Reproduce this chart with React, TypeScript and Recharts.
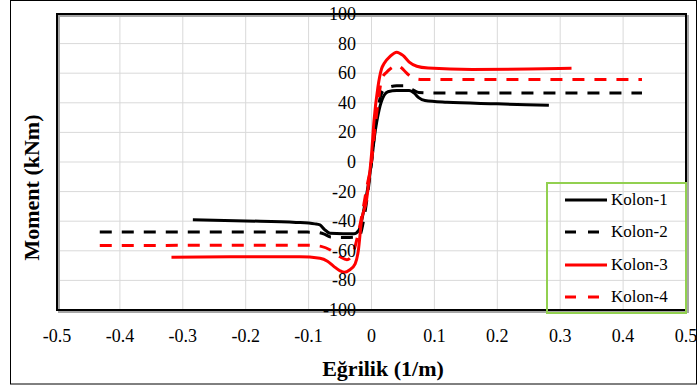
import React from "react";
import { LineChart, Line, XAxis, YAxis, CartesianGrid, ReferenceArea, Legend } from "recharts";

const FONT = "Liberation Serif";

// Eğrilik (1/m), Moment (kNm)
const kolon1: [number, number][] = [
  [-0.284, -39], [-0.2, -39.8], [-0.12, -40.8], [-0.09, -41.8], [-0.082, -42.5], [-0.075, -45.5],
  [-0.066, -48.2], [-0.045, -48.5], [-0.028, -48.5], [-0.02, -46], [-0.012, -32], [-0.005, -15],
  [0, 0], [0.005, 18], [0.012, 35], [0.02, 45], [0.026, 47.5], [0.04, 48.3], [0.06, 48.3],
  [0.068, 46.5], [0.075, 43.5], [0.085, 41.5], [0.12, 40.3], [0.2, 39.3], [0.282, 38.3],
];

const kolon2: [number, number][] = [
  [-0.432, -47.3], [-0.2, -47.3], [-0.09, -47.4], [-0.075, -48.7], [-0.065, -50.6], [-0.04, -51],
  [-0.02, -50.5], [-0.012, -38], [-0.005, -18], [0, 0], [0.005, 20], [0.012, 40], [0.018, 48],
  [0.025, 50], [0.04, 51.5], [0.055, 51.5], [0.065, 49], [0.075, 47], [0.1, 46.7], [0.2, 46.7],
  [0.43, 46.7],
];

const kolon3: [number, number][] = [
  [-0.318, -64.3], [-0.2, -64], [-0.114, -64], [-0.082, -65], [-0.07, -67], [-0.06, -70.5],
  [-0.05, -73.5], [-0.043, -74.5], [-0.035, -73], [-0.026, -68.8], [-0.021, -60], [-0.016, -40],
  [-0.008, -26], [-0.004, -12], [0, 5], [0.004, 28], [0.01, 50], [0.016, 63], [0.02, 66.5],
  [0.03, 71.5], [0.04, 74.2], [0.05, 72], [0.06, 67.5], [0.072, 64.7], [0.09, 63.5], [0.16, 62.5],
  [0.25, 62.8], [0.318, 63.3],
];

const kolon4: [number, number][] = [
  [-0.432, -56.4], [-0.2, -56.3], [-0.1, -56.3], [-0.08, -57], [-0.063, -60], [-0.05, -64],
  [-0.039, -66], [-0.03, -62], [-0.021, -48], [-0.014, -33], [-0.007, -16], [0, 0], [0.006, 25],
  [0.012, 45], [0.016, 56], [0.024, 60.7], [0.033, 64], [0.04, 65.3], [0.048, 63.5], [0.056, 60],
  [0.065, 57], [0.08, 55.8], [0.2, 55.7], [0.43, 55.7],
];

const seriesNames = ["Kolon-1", "Kolon-2", "Kolon-3", "Kolon-4"];
const seriesColors = ["#000000", "#000000", "#ff0000", "#ff0000"];
const seriesDashes = ["", "12 10", "", "12 10"];
const seriesData = [kolon1, kolon2, kolon3, kolon4];

const xTicks = [-0.5, -0.4, -0.3, -0.2, -0.1, 0, 0.1, 0.2, 0.3, 0.4, 0.5];
const yTicks = [-100, -80, -60, -40, -20, 0, 20, 40, 60, 80, 100];

const toPoints = (arr: [number, number][]) => arr.map(([x, y]) => ({ x, y }));

// y labels sit next to the vertical axis at x = 0 (Excel style)
const renderYTick = (props: any) => (
  <text key={props.payload.value} x={356} y={props.y} dy={6} textAnchor="end" fontSize={18} fontFamily={FONT} fill="#000">
    {props.payload.value}
  </text>
);

const PlotFrame = (p: any) => (
  <g>
    <rect x={p.x + 2} y={p.y + 2} width={p.width} height={p.height} fill="none" stroke="#a6a6a6" strokeWidth={2} />
    <rect x={p.x} y={p.y} width={p.width} height={p.height} fill="none" stroke="#000" strokeWidth={2} />
  </g>
);

const LegendBox = (props: any) => (
  <div
    style={{
      boxSizing: "border-box",
      width: 141,
      height: 132,
      border: "2px solid #92d050",
      paddingLeft: 17,
      fontFamily: FONT,
      fontSize: 17,
      color: "#000",
    }}
  >
    {(props.payload || []).map((e: any) => {
      const i = seriesNames.indexOf(e.value);
      return (
        <div key={e.value} style={{ display: "flex", alignItems: "center", height: 32.3 }}>
          <svg width={42} height={6} style={{ display: "block" }}>
            <line x1={0} y1={3} x2={42} y2={3} stroke={seriesColors[i]} strokeWidth={3} strokeDasharray={seriesDashes[i] ? "11 12" : undefined} />
          </svg>
          <span style={{ marginLeft: 4 }}>{e.value}</span>
        </div>
      );
    })}
  </div>
);

export default function App() {
  return (
    <div style={{ position: "absolute", left: 0, top: 0, width: 699, height: 387, background: "#fff" }}>
      <LineChart width={699} height={387} margin={{ top: 14, right: 13, bottom: 47, left: 27 }}>
        <CartesianGrid stroke="#d9d9d9" strokeWidth={1} />
        <XAxis
          type="number"
          dataKey="x"
          domain={[-0.5, 0.5]}
          ticks={xTicks}
          allowDataOverflow
          axisLine={false}
          tickLine={false}
          height={30}
          tickMargin={13}
          tick={{ fontSize: 18, fontFamily: FONT, fill: "#000" }}
        />
        <YAxis
          type="number"
          dataKey="y"
          domain={[-100, 100]}
          ticks={yTicks}
          interval={0}
          allowDataOverflow
          width={30}
          axisLine={false}
          tickLine={false}
          tick={renderYTick}
        />
        <ReferenceArea x1={-0.5} x2={0.5} y1={-100} y2={100} ifOverflow="visible" shape={<PlotFrame />} />
        {seriesNames.map((name, i) => (
          <Line
            key={name}
            name={name}
            data={toPoints(seriesData[i])}
            dataKey="y"
            type="monotone"
            stroke={seriesColors[i]}
            strokeWidth={3}
            strokeDasharray={seriesDashes[i] || undefined}
            dot={false}
            activeDot={false}
            isAnimationActive={false}
          />
        ))}
        <Legend
          layout="vertical"
          align="center"
          verticalAlign="middle"
          content={<LegendBox />}
          wrapperStyle={{ left: 546, top: 182, width: 141, height: 132 }}
        />
      </LineChart>
      <svg width={699} height={387} style={{ position: "absolute", left: 0, top: 0, pointerEvents: "none" }}>
        <rect x={10.5} y={0.5} width={686} height={383.5} fill="none" stroke="#000" strokeWidth={1} />
        <text x={383} y={376} textAnchor="middle" fontSize={22} fontWeight="bold" fontFamily={FONT} fill="#000">
          Eğrilik (1/m)
        </text>
        <text
          x={39}
          y={187.5}
          transform="rotate(-90 39 187.5)"
          textAnchor="middle"
          fontSize={22}
          fontWeight="bold"
          fontFamily={FONT}
          fill="#000"
        >
          Moment (kNm)
        </text>
      </svg>
    </div>
  );
}
